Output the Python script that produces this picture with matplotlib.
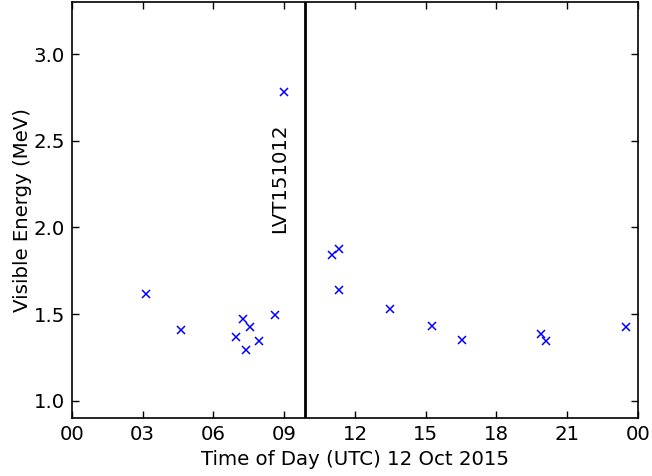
import numpy as np
import matplotlib
matplotlib.use('Agg')
import matplotlib.pyplot as plt

# event times (hours UTC, 12 Oct 2015) and visible energies (MeV)
hours = [3.12, 4.61, 6.94, 7.25, 7.39, 7.55, 7.93, 8.61, 8.98,
         11.01, 11.31, 11.34, 13.49, 15.25, 16.54, 19.90, 20.10, 23.48]
energy = [1.617, 1.408, 1.370, 1.469, 1.293, 1.425, 1.344, 1.494, 2.782,
          1.840, 1.873, 1.637, 1.530, 1.431, 1.350, 1.387, 1.347, 1.427]
event_time = 9.9
event_name = 'LVT151012'
xticks = [0, 3, 6, 9, 12, 15, 18, 21, 24]
xticklabels = ['00', '03', '06', '09', '12', '15', '18', '21', '00']
yticks = [1.0, 1.5, 2.0, 2.5, 3.0]

fig = plt.figure(figsize=(6.52, 4.76), dpi=100)
ax = fig.add_axes([0.1104, 0.1218, 0.8681, 0.874])

ax.plot(hours, energy, 'x', color='blue', markersize=6, markeredgewidth=1.1)
ax.axvline(event_time, color='black', linewidth=2)
ax.text(event_time - 0.7, 2.284, event_name, rotation=90, ha='right',
        va='center', fontsize=14.2)

ax.set_xlim(0, 24)
ax.set_ylim(0.9, 3.3)
ax.set_xticks(xticks)
ax.set_xticklabels(xticklabels)
ax.set_yticks(yticks)
ax.set_yticklabels(['%.1f' % v for v in yticks])
ax.tick_params(direction='in', length=5, width=1, top=True, right=True,
               labelsize=14.2, pad=5)
for s in ax.spines.values():
    s.set_linewidth(1.2)

ax.set_xlabel('Time of Day (UTC) 12 Oct 2015', fontsize=14.2, labelpad=4)
ax.set_ylabel('Visible Energy (MeV)', fontsize=14.2, labelpad=1)

fig.savefig('out.png', dpi=100)
